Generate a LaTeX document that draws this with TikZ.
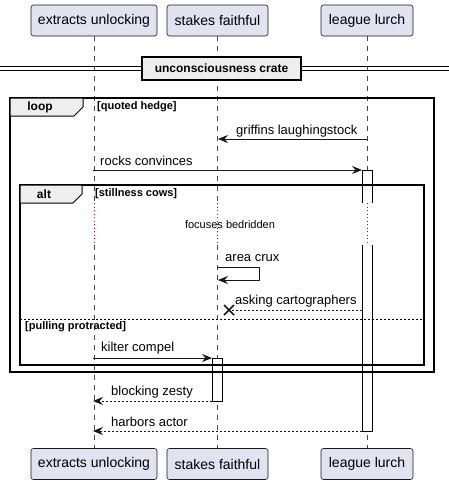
\documentclass[tikz,border=0pt]{standalone}
\usepackage{fontspec}
\setmainfont{Liberation Sans}
\usetikzlibrary{arrows.meta}
\definecolor{partfill}{HTML}{E2E2F0}
\definecolor{partdraw}{HTML}{181818}
\definecolor{grpfill}{HTML}{EEEEEE}
\definecolor{delayred}{HTML}{A80036}
\begin{document}
\begin{tikzpicture}[x=1pt,y=-1pt,
  part/.style={draw=partdraw, fill=partfill, rounded corners=2.5pt, line width=0.6pt,
    minimum height=31pt, inner sep=0pt, font=\fontsize{14}{16}\selectfont},
  lifeline/.style={draw=partdraw!80, line width=0.6pt, dash pattern=on 5pt off 5pt},
  delayline/.style={draw=delayred, line width=0.8pt, dash pattern=on 1pt off 2.5pt},
  msg/.style={draw=partdraw, line width=0.8pt, -{Stealth[length=10pt,width=8pt,inset=3.5pt]}},
  ret/.style={msg, dash pattern=on 2pt off 2pt},
  lbl/.style={font=\fontsize{13}{15}\selectfont, anchor=west, inner sep=0pt},
  grptitle/.style={font=\bfseries\fontsize{12}{14}\selectfont, inner sep=0pt},
  guard/.style={font=\bfseries\fontsize{11}{13}\selectfont, anchor=west, inner sep=0pt},
  frame/.style={draw=black, line width=1.5pt},
  tab/.style={draw=black, fill=grpfill, line width=1pt},
  actbar/.style={draw=black, fill=white, line width=0.8pt},
  barside/.style={draw=black, line width=0.8pt}
]
\useasboundingbox (0,0) rectangle (449,485);
\fill[white] (0,0) rectangle (449,485);

% participants
\node[part, minimum width=126pt] (eT) at (94,20.5) {extracts unlocking};
\node[part, minimum width=101pt] (sT) at (217.5,20.5) {stakes faithful};
\node[part, minimum width=92pt]  (lT) at (367,20.5) {league lurch};
\node[part, minimum width=126pt] (eB) at (94,464) {extracts unlocking};
\node[part, minimum width=101pt] (sB) at (217.5,464) {stakes faithful};
\node[part, minimum width=92pt]  (lB) at (367,464) {league lurch};

% lifelines with delay break
\coordinate (dA) at (0,203);
\coordinate (dB) at (0,245);
\foreach \p in {e,s,l}{
  \draw[lifeline] (\p T.south) -- (\p T.south |- dA);
  \draw[lifeline] (\p T.south |- dB) -- (\p B.north);
}

% activation bars
\fill[white] (362,170) rectangle (372,203);
\draw[barside] (362,203) -- (362,170) -- (372,170) -- (372,203);
\fill[white] (362,245) rectangle (372,431);
\draw[barside] (362,245) -- (362,431) -- (372,431) -- (372,245);
\draw[actbar] (212,358) rectangle (222,401);
\foreach \p in {e,s,l}{
  \draw[delayline] (\p T.south |- dA) -- (\p T.south |- dB);
}

% divider
\draw[line width=1pt] (0,66) -- (449,66);
\draw[line width=1pt] (0,70) -- (449,70);
\node[draw=black, fill=grpfill, line width=1.5pt, minimum width=159pt, minimum height=23pt,
  inner sep=0pt, font=\bfseries\fontsize{12}{14}\selectfont] (div) at (221.5,68.5) {unconsciousness crate};

% loop frame
\draw[frame] (10,98) rectangle (434,372);
\draw[tab] (10,98) -- (83,98) -- (83,107) -- (74,116) -- (10,116) -- cycle;
\node[grptitle] (loopT) at (40,107.5) {loop};
\node[guard] (loopG) at (97,107) {[quoted hedge]};

% alt frame
\draw[frame] (20,185) rectangle (424,365);
\draw[tab] (20,185) -- (82,185) -- (82,194) -- (73,203) -- (20,203) -- cycle;
\node[grptitle] (altT) at (44,194) {alt};
\node[guard] (altG) at (95,193.5) {[stillness cows]};
\draw[line width=0.8pt, dash pattern=on 2pt off 2pt] (20,319) -- (424,319);
\node[guard] (altG2) at (25,327) {[pulling protracted]};

% messages
\coordinate (m1s) at (367,139);  \coordinate (m1e) at (218,139);
\draw[msg] (m1s) -- (m1e);
\node[lbl] (m1l) at (236,131) {griffins laughingstock};

\coordinate (m2s) at (93,170);  \coordinate (m2e) at (362,170);
\draw[msg] (m2s) -- (m2e);
\node[lbl] (m2l) at (100,161) {rocks convinces};

\node[font=\fontsize{11}{13}\selectfont, inner sep=0pt] (delay) at (230,225) {focuses bedridden};

\coordinate (m3s) at (218,267); \coordinate (m3a) at (259,267);
\coordinate (m3b) at (259,280); \coordinate (m3e) at (218,280);
\draw[msg] (m3s) -- (m3a) -- (m3b) -- (m3e);
\node[lbl] (m3l) at (225,258) {area crux};

\coordinate (m4s) at (362,310); \coordinate (m4e) at (229,310);
\draw[partdraw, line width=0.8pt, dash pattern=on 2pt off 2pt] (m4s) -- (m4e);
\draw[partdraw, line width=1.6pt] ([shift={(-5,-5)}]m4e) -- ([shift={(5,5)}]m4e)
  ([shift={(-5,5)}]m4e) -- ([shift={(5,-5)}]m4e);
\node[lbl] (m4l) at (235,301) {asking cartographers};

\coordinate (m5s) at (93,358); \coordinate (m5e) at (212,358);
\draw[msg] (m5s) -- (m5e);
\node[lbl] (m5l) at (101,348) {kilter compel};

\coordinate (m6s) at (212,401); \coordinate (m6e) at (93,401);
\draw[ret] (m6s) -- (m6e);
\node[lbl] (m6l) at (111,392) {blocking zesty};

\coordinate (m7s) at (362,431); \coordinate (m7e) at (93,431);
\draw[ret] (m7s) -- (m7e);
\node[lbl] (m7l) at (111,422) {harbors actor};
\end{tikzpicture}
\end{document}
